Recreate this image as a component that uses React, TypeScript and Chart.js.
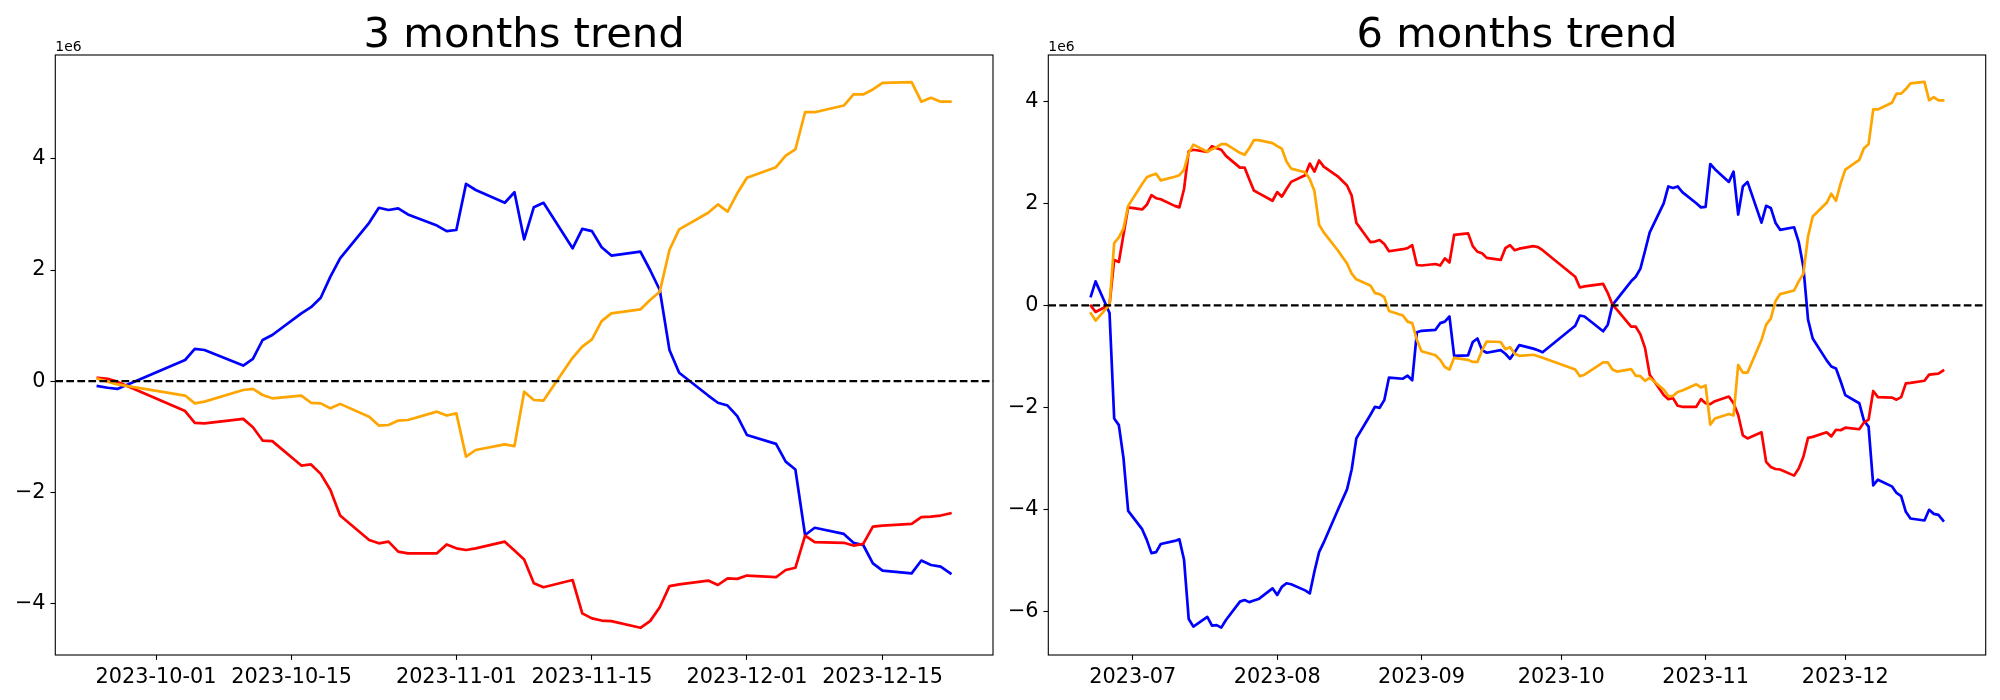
import React, { useEffect, useRef } from "react";
import { Chart, registerables } from "chart.js";

Chart.register(...registerables);

// ---------- 3 months (KRX trading days), values in units of 1e6 ----------
const dates3m = [
  "2023-09-25", "2023-09-26", "2023-09-27",
  "2023-10-04", "2023-10-05", "2023-10-06", "2023-10-10", "2023-10-11", "2023-10-12", "2023-10-13",
  "2023-10-16", "2023-10-17", "2023-10-18", "2023-10-19", "2023-10-20", "2023-10-23", "2023-10-24",
  "2023-10-25", "2023-10-26", "2023-10-27", "2023-10-30", "2023-10-31",
  "2023-11-01", "2023-11-02", "2023-11-03", "2023-11-06", "2023-11-07", "2023-11-08", "2023-11-09",
  "2023-11-10", "2023-11-13", "2023-11-14", "2023-11-15", "2023-11-16", "2023-11-17", "2023-11-20",
  "2023-11-21", "2023-11-22", "2023-11-23", "2023-11-24", "2023-11-27", "2023-11-28", "2023-11-29",
  "2023-11-30",
  "2023-12-01", "2023-12-04", "2023-12-05", "2023-12-06", "2023-12-07", "2023-12-08", "2023-12-11",
  "2023-12-12", "2023-12-13", "2023-12-14", "2023-12-15", "2023-12-18", "2023-12-19", "2023-12-20",
  "2023-12-21", "2023-12-22",
];
const blue3m = [
  -0.09, -0.12, -0.14,
  0.38, 0.58, 0.56, 0.28, 0.4, 0.74, 0.83, 1.22, 1.33, 1.5, 1.88, 2.21, 2.85, 3.12, 3.08, 3.11, 3.0, 2.8, 2.7,
  2.72, 3.55, 3.44, 3.21, 3.4, 2.55, 3.13, 3.21, 2.39, 2.74, 2.7, 2.41, 2.26, 2.33, 2.0, 1.64, 0.56, 0.15,
  -0.26, -0.39, -0.44, -0.63,
  -0.97, -1.13, -1.45, -1.59, -2.77, -2.64, -2.75, -2.91, -2.95, -3.28, -3.41, -3.46, -3.23, -3.31, -3.34, -3.46,
];
const red3m = [
  0.06, 0.04, -0.01,
  -0.54, -0.75, -0.76, -0.68, -0.83, -1.07, -1.08, -1.52, -1.5, -1.67, -1.96, -2.42, -2.86, -2.92, -2.89,
  -3.07, -3.1, -3.1, -2.94,
  -3.01, -3.04, -3.01, -2.89, -3.05, -3.21, -3.64, -3.71, -3.58, -4.18, -4.27, -4.31, -4.32, -4.44, -4.32,
  -4.07, -3.69, -3.66, -3.59, -3.67, -3.55, -3.56,
  -3.5, -3.53, -3.4, -3.36, -2.78, -2.9, -2.91, -2.96, -2.93, -2.62, -2.6, -2.57, -2.45, -2.44, -2.42, -2.38,
];
const orange3m = [
  0.04, -0.01, -0.06,
  -0.26, -0.4, -0.37, -0.16, -0.14, -0.25, -0.31, -0.26, -0.39, -0.4, -0.49, -0.41, -0.64, -0.8, -0.79,
  -0.71, -0.7, -0.55, -0.62,
  -0.58, -1.36, -1.24, -1.14, -1.17, -0.19, -0.34, -0.35, 0.42, 0.62, 0.75, 1.08, 1.22, 1.29, 1.46, 1.61,
  2.36, 2.73, 3.03, 3.18, 3.05, 3.38,
  3.66, 3.85, 4.06, 4.17, 4.84, 4.84, 4.96, 5.16, 5.16, 5.25, 5.37, 5.38, 5.03, 5.1, 5.03, 5.03,
];
const tickDates3m = ["2023-10-01", "2023-10-15", "2023-11-01", "2023-11-15", "2023-12-01", "2023-12-15"];
const tickLabels3m = ["2023-10-01", "2023-10-15", "2023-11-01", "2023-11-15", "2023-12-01", "2023-12-15"];
const yTicks3m = [-4, -2, 0, 2, 4];
const yRange3m = [-4.93, 5.87];

// ---------- 6 months (KRX trading days), values in units of 1e6 ----------
const dates6m = [
  "2023-06-22", "2023-06-23", "2023-06-26", "2023-06-27", "2023-06-28", "2023-06-29", "2023-06-30",
  "2023-07-03", "2023-07-04", "2023-07-05", "2023-07-06", "2023-07-07", "2023-07-10", "2023-07-11",
  "2023-07-12", "2023-07-13", "2023-07-14", "2023-07-17", "2023-07-18", "2023-07-19", "2023-07-20",
  "2023-07-21", "2023-07-24", "2023-07-25", "2023-07-26", "2023-07-27", "2023-07-28", "2023-07-31",
  "2023-08-01", "2023-08-02", "2023-08-03", "2023-08-04", "2023-08-07", "2023-08-08", "2023-08-09",
  "2023-08-10", "2023-08-11", "2023-08-14", "2023-08-16", "2023-08-17", "2023-08-18", "2023-08-21",
  "2023-08-22", "2023-08-23", "2023-08-24", "2023-08-25", "2023-08-28", "2023-08-29", "2023-08-30",
  "2023-08-31",
  "2023-09-01", "2023-09-04", "2023-09-05", "2023-09-06", "2023-09-07", "2023-09-08", "2023-09-11",
  "2023-09-12", "2023-09-13", "2023-09-14", "2023-09-15", "2023-09-18", "2023-09-19", "2023-09-20",
  "2023-09-21", "2023-09-22", "2023-09-25", "2023-09-26", "2023-09-27",
  "2023-10-04", "2023-10-05", "2023-10-06", "2023-10-10", "2023-10-11", "2023-10-12", "2023-10-13",
  "2023-10-16", "2023-10-17", "2023-10-18", "2023-10-19", "2023-10-20", "2023-10-23", "2023-10-24",
  "2023-10-25", "2023-10-26", "2023-10-27", "2023-10-30", "2023-10-31",
  "2023-11-01", "2023-11-02", "2023-11-03", "2023-11-06", "2023-11-07", "2023-11-08", "2023-11-09",
  "2023-11-10", "2023-11-13", "2023-11-14", "2023-11-15", "2023-11-16", "2023-11-17", "2023-11-20",
  "2023-11-21", "2023-11-22", "2023-11-23", "2023-11-24", "2023-11-27", "2023-11-28", "2023-11-29",
  "2023-11-30",
  "2023-12-01", "2023-12-04", "2023-12-05", "2023-12-06", "2023-12-07", "2023-12-08", "2023-12-11",
  "2023-12-12", "2023-12-13", "2023-12-14", "2023-12-15", "2023-12-18", "2023-12-19", "2023-12-20",
  "2023-12-21", "2023-12-22",
];
const blue6m = [
  0.18, 0.47, -0.15, -2.22, -2.35, -3.0, -4.03,
  -4.39, -4.6, -4.86, -4.84, -4.68, -4.62, -4.59, -4.99, -6.15, -6.3, -6.11, -6.28, -6.27, -6.32, -6.17,
  -5.81, -5.78, -5.82, -5.79, -5.76, -5.55,
  -5.68, -5.52, -5.45, -5.47, -5.59, -5.65, -5.22, -4.84, -4.65, -4.02, -3.61, -3.22, -2.61, -2.15, -1.99,
  -2.01, -1.86, -1.42, -1.44, -1.38, -1.47, -0.53,
  -0.5, -0.48, -0.35, -0.32, -0.22, -0.99, -0.98, -0.72, -0.65, -0.88, -0.93, -0.88, -0.95, -1.05, -0.92,
  -0.78, -0.85, -0.88, -0.92,
  -0.4, -0.2, -0.22, -0.51, -0.38, 0.01, 0.12, 0.47, 0.56, 0.72, 1.07, 1.43, 2.0, 2.33, 2.3, 2.33, 2.22,
  2.0, 1.92,
  1.93, 2.77, 2.67, 2.42, 2.62, 1.78, 2.33, 2.42, 1.62, 1.95, 1.91, 1.62, 1.48, 1.53, 1.24, 0.75, -0.28,
  -0.65, -1.08, -1.2, -1.24, -1.49,
  -1.76, -1.92, -2.26, -2.38, -3.53, -3.42, -3.55, -3.68, -3.74, -4.05, -4.18, -4.22, -4.01, -4.09, -4.11, -4.22,
];
const red6m = [
  -0.01, -0.13, 0.01, 0.89, 0.85, 1.39, 1.92,
  1.88, 1.97, 2.16, 2.1, 2.08, 1.95, 1.92, 2.28, 3.02, 3.05, 3.01, 3.12, 3.08, 3.05, 2.93, 2.7, 2.7, 2.47,
  2.25, 2.2, 2.05,
  2.22, 2.13, 2.28, 2.42, 2.55, 2.78, 2.62, 2.84, 2.72, 2.53, 2.35, 2.15, 1.62, 1.24, 1.25, 1.28, 1.2, 1.06,
  1.1, 1.12, 1.18, 0.79,
  0.78, 0.81, 0.78, 0.92, 0.84, 1.38, 1.41, 1.16, 1.05, 1.02, 0.93, 0.89, 1.12, 1.18, 1.08, 1.11, 1.16,
  1.14, 1.08,
  0.56, 0.35, 0.37, 0.42, 0.24, 0.01, -0.09, -0.42, -0.42, -0.57, -0.84, -1.36, -1.76, -1.84, -1.82, -1.97,
  -1.99, -1.99, -1.84,
  -1.92, -1.94, -1.88, -1.79, -1.92, -2.15, -2.55, -2.61, -2.49, -3.07, -3.17, -3.21, -3.22, -3.34, -3.2,
  -2.97, -2.6, -2.58, -2.49, -2.57, -2.44, -2.45,
  -2.4, -2.43, -2.3, -2.24, -1.68, -1.8, -1.81, -1.85, -1.8, -1.53, -1.52, -1.48, -1.36, -1.35, -1.34, -1.28,
];
const orange6m = [
  -0.16, -0.3, 0.01, 1.22, 1.33, 1.51, 1.95,
  2.38, 2.51, 2.55, 2.58, 2.45, 2.52, 2.55, 2.66, 2.99, 3.15, 3.01, 3.06, 3.1, 3.16, 3.16, 2.99, 2.95, 3.08,
  3.24, 3.24, 3.18,
  3.12, 3.07, 2.82, 2.68, 2.61, 2.47, 2.24, 1.58, 1.43, 1.08, 0.82, 0.62, 0.51, 0.39, 0.24, 0.22, 0.16,
  -0.11, -0.2, -0.32, -0.35, -0.68,
  -0.9, -0.98, -1.07, -1.21, -1.26, -1.03, -1.07, -1.11, -1.11, -0.88, -0.71, -0.72, -0.86, -0.82, -0.95,
  -0.99, -0.97, -1.0, -1.03,
  -1.26, -1.39, -1.36, -1.12, -1.12, -1.26, -1.3, -1.25, -1.38, -1.39, -1.48, -1.42, -1.65, -1.78, -1.78,
  -1.7, -1.67, -1.55, -1.61,
  -1.57, -2.34, -2.22, -2.13, -2.16, -1.17, -1.32, -1.32, -0.68, -0.38, -0.26, 0.08, 0.22, 0.29, 0.47, 0.62,
  1.35, 1.74, 2.01, 2.19, 2.05, 2.39,
  2.66, 2.85, 3.08, 3.16, 3.84, 3.84, 3.97, 4.15, 4.15, 4.24, 4.35, 4.38, 4.02, 4.08, 4.02, 4.02,
];
const tickDates6m = ["2023-07-01", "2023-08-01", "2023-09-01", "2023-10-01", "2023-11-01", "2023-12-01"];
const tickLabels6m = ["2023-07", "2023-08", "2023-09", "2023-10", "2023-11", "2023-12"];
const yTicks6m = [-6, -4, -2, 0, 2, 4];
const yRange6m = [-6.857, 4.908];

const SCALE = 1e6;
const DAY_MS = 86400000;
const FONT = '"DejaVu Sans", "Liberation Sans", sans-serif';

const toDay = (s: string) => {
  const [y, m, d] = s.split("-").map(Number);
  return Date.UTC(y, m - 1, d) / DAY_MS;
};

const fmtTick = (v: number) => {
  const n = Math.round(v / SCALE);
  return n < 0 ? "\u2212" + Math.abs(n) : String(n);
};

const decorPlugin = {
  id: "decor",
  afterDraw(chart: any, _args: any, opts: any) {
    const { ctx, chartArea: a } = chart;
    ctx.save();
    ctx.strokeStyle = "#000";
    ctx.lineWidth = 1.1;
    ctx.strokeRect(a.left, a.top, a.right - a.left, a.bottom - a.top);
    ctx.fillStyle = "#000";
    ctx.font = `41.7px ${FONT}`;
    ctx.textAlign = "center";
    ctx.textBaseline = "alphabetic";
    ctx.fillText(opts.title, (a.left + a.right) / 2, a.top - 8.3);
    ctx.font = `13.9px ${FONT}`;
    ctx.textAlign = "left";
    ctx.fillText("1e6", a.left, a.top - 4);
    ctx.restore();
  },
};

type PanelProps = {
  title: string;
  dates: string[];
  blue: number[];
  red: number[];
  orange: number[];
  tickDates: string[];
  tickLabels: string[];
  yTicks: number[];
  yRange: number[];
  axisWidth: number;
  padRight: number;
};

function Panel(p: PanelProps) {
  const ref = useRef<HTMLCanvasElement | null>(null);
  useEffect(() => {
    if (!ref.current) return;
    const xs = p.dates.map(toDay);
    const span = xs[xs.length - 1] - xs[0];
    const xmin = xs[0] - span * 0.05;
    const xmax = xs[xs.length - 1] + span * 0.05;
    const series = (vals: number[]) => vals.map((v, i) => ({ x: xs[i], y: v * SCALE }));
    const tickDays = p.tickDates.map(toDay);
    const lineStyle = {
      borderWidth: 2.7,
      pointRadius: 0,
      pointHoverRadius: 0,
      fill: false,
      tension: 0,
      borderJoinStyle: "round" as const,
      borderCapStyle: "square" as const,
    };
    const chart = new Chart(ref.current, {
      type: "line",
      data: {
        datasets: [
          {
            data: [
              { x: xmin, y: 0 },
              { x: xmax, y: 0 },
            ],
            borderColor: "#000000",
            borderDash: [7.7, 3.33],
            borderWidth: 2.2,
            pointRadius: 0,
            order: 0,
          },
          { ...lineStyle, data: series(p.orange), borderColor: "#ffa500", order: 1 },
          { ...lineStyle, data: series(p.red), borderColor: "#ff0000", order: 2 },
          { ...lineStyle, data: series(p.blue), borderColor: "#0000ff", order: 3 },
        ],
      },
      options: {
        responsive: false,
        maintainAspectRatio: false,
        animation: false,
        devicePixelRatio: 1,
        layout: { padding: { top: 55, right: p.padRight, left: 0, bottom: 0 } },
        plugins: {
          legend: { display: false },
          tooltip: { enabled: false },
          title: { display: false },
          decor: { title: p.title },
        } as any,
        scales: {
          x: {
            type: "linear",
            min: xmin,
            max: xmax,
            afterBuildTicks: (s: any) => {
              s.ticks = tickDays.map((v) => ({ value: v }));
            },
            afterFit: (s: any) => {
              s.height = 45;
            },
            ticks: {
              autoSkip: false,
              maxRotation: 0,
              minRotation: 0,
              padding: 4.86,
              color: "#000",
              font: { family: FONT, size: 20.8 },
              callback: (_v: any, i: number) => p.tickLabels[i],
            },
            grid: {
              drawOnChartArea: false,
              drawTicks: true,
              tickLength: 4.86,
              tickWidth: 1.1,
              tickColor: "#000",
            },
            border: { display: false },
          },
          y: {
            type: "linear",
            min: p.yRange[0] * SCALE,
            max: p.yRange[1] * SCALE,
            afterBuildTicks: (s: any) => {
              s.ticks = p.yTicks.map((v) => ({ value: v * SCALE }));
            },
            afterFit: (s: any) => {
              s.width = p.axisWidth;
            },
            ticks: {
              padding: 4.86,
              color: "#000",
              font: { family: FONT, size: 20.8 },
              callback: (v: any) => fmtTick(Number(v)),
            },
            grid: {
              drawOnChartArea: false,
              drawTicks: true,
              tickLength: 4.86,
              tickWidth: 1.1,
              tickColor: "#000",
            },
            border: { display: false },
          },
        },
      },
      plugins: [decorPlugin],
    } as any);
    return () => chart.destroy();
  }, []);
  return (
    <canvas
      ref={ref}
      width={1000}
      height={700}
      style={{ display: "block", width: 1000, height: 700 }}
    />
  );
}

export default function App() {
  return (
    <div
      style={{
        position: "absolute",
        left: 0,
        top: 0,
        width: 2000,
        height: 700,
        display: "flex",
        background: "#fff",
      }}
    >
      <Panel
        title="3 months trend"
        dates={dates3m}
        blue={blue3m}
        red={red3m}
        orange={orange3m}
        tickDates={tickDates3m}
        tickLabels={tickLabels3m}
        yTicks={yTicks3m}
        yRange={yRange3m}
        axisWidth={55.3}
        padRight={7}
      />
      <Panel
        title="6 months trend"
        dates={dates6m}
        blue={blue6m}
        red={red6m}
        orange={orange6m}
        tickDates={tickDates6m}
        tickLabels={tickLabels6m}
        yTicks={yTicks6m}
        yRange={yRange6m}
        axisWidth={48.3}
        padRight={14.3}
      />
    </div>
  );
}
